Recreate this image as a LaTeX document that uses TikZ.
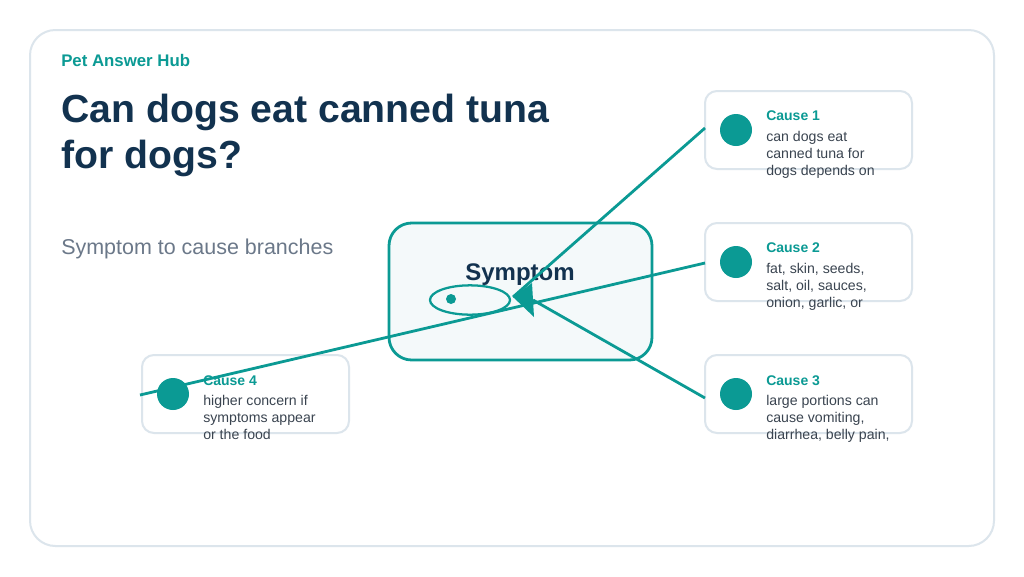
\documentclass[tikz,border=0pt]{standalone}
\usepackage{fontspec}
\usetikzlibrary{shapes.geometric}
\setmainfont{Liberation Sans}
\definecolor{teal1}{HTML}{0B9A94}
\definecolor{navy}{HTML}{12324F}
\definecolor{greytxt}{HTML}{6B7889}
\definecolor{bodytxt}{HTML}{3A4450}
\definecolor{frame}{HTML}{DCE5EC}
\definecolor{boxfill}{HTML}{F4F9FA}
\begin{document}
\begin{tikzpicture}[x=0.75pt,y=-0.75pt,
  causebox/.style={draw=frame,line width=1.5pt,fill=white,rounded corners=9pt},
  causedot/.style={circle,fill=teal1,minimum size=24pt,inner sep=0pt},
  ctitle/.style={anchor=base west,inner sep=0pt,font=\fontsize{10.5}{12}\selectfont\bfseries,text=teal1},
  cbody/.style={anchor=base west,inner sep=0pt,font=\fontsize{10.6}{12.75}\selectfont,text=bodytxt,align=left},
  link/.style={draw=teal1,line width=2.1pt}]
\useasboundingbox (0,0) rectangle (1024,576);
\fill[white] (0,0) rectangle (1024,576);
\draw[frame,line width=1.5pt,rounded corners=19pt] (30,30) rectangle (994,546);
\node[anchor=base west,inner sep=0pt,font=\fontsize{12.6}{14}\selectfont\bfseries,text=teal1] (brand) at (61,66) {Pet Answer Hub};
\node[anchor=base west,inner sep=0pt,font=\fontsize{29.4}{34}\selectfont\bfseries,text=navy] (title1) at (61,122) {Can dogs eat canned tuna};
\node[anchor=base west,inner sep=0pt,font=\fontsize{29.4}{34}\selectfont\bfseries,text=navy] (title2) at (61,168) {for dogs?};
\node[anchor=base west,inner sep=0pt,font=\fontsize{16.1}{18}\selectfont,text=greytxt] (sub) at (61,254) {Symptom to cause branches};
% center box
\draw[draw=teal1,line width=2.1pt,fill=boxfill,rounded corners=17pt] (389,223) rectangle (652,360);
\node[anchor=base,inner sep=0pt,font=\fontsize{18}{20}\selectfont\bfseries,text=navy] (symptom) at (520,280) {Symptom};
\node[draw=teal1,line width=1.7pt,ellipse,minimum width=60pt,minimum height=22pt,inner sep=0pt] (eye) at (470,300) {};
\node[circle,fill=teal1,minimum size=7.5pt,inner sep=0pt] (pupil) at (451,299) {};
% cause boxes
\draw[causebox] (705,91) rectangle (912,169);
\draw[causebox] (705,223) rectangle (912,301);
\draw[causebox] (705,355) rectangle (912,433);
\draw[causebox] (142,355) rectangle (349,433);
\coordinate (c1) at (705,128);
\coordinate (c2) at (705,263);
\coordinate (c3) at (705,398);
\coordinate (c4) at (140,395);
\coordinate (tip) at (513,297);
\coordinate (base) at (533,300);
\coordinate (bt) at (532,283);
\coordinate (bb) at (534,317);
\draw[link] (c1) -- (tip);
\draw[link] (c3) -- (base);
\fill[teal1] (tip) -- (bt) -- (bb) -- cycle;
\node[causedot] (d1) at (736,130) {};
\node[causedot] (d2) at (736,262) {};
\node[causedot] (d3) at (736,394) {};
\node[causedot] (d4) at (173,394) {};
\node[ctitle] (t1) at (766,120) {Cause 1};
\node[cbody] (b1) at (766,175) {can dogs eat\\canned tuna for\\dogs depends on};
\node[ctitle] (t2) at (766,252) {Cause 2};
\node[cbody] (b2) at (766,307) {fat, skin, seeds,\\salt, oil, sauces,\\onion, garlic, or};
\node[ctitle] (t3) at (766,385) {Cause 3};
\node[cbody] (b3) at (766,439) {large portions can\\cause vomiting,\\diarrhea, belly pain,};
\node[ctitle] (t4) at (203,385) {Cause 4};
\node[cbody] (b4) at (203,439) {higher concern if\\symptoms appear\\or the food};
\draw[link] (c4) -- (c2);
\end{tikzpicture}
\end{document}
